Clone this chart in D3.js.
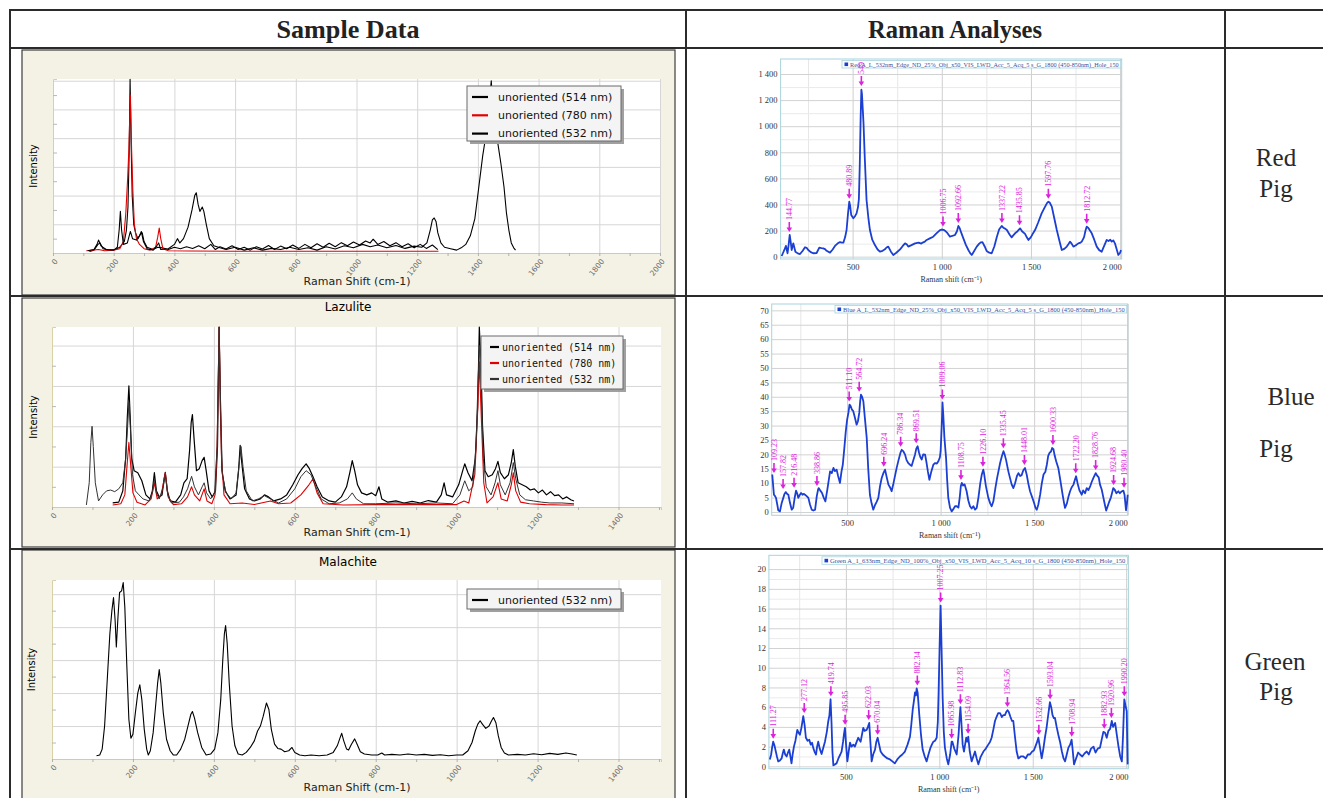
<!DOCTYPE html>
<html lang="en">
<head>
<meta charset="utf-8">
<title>Sample Data / Raman Analyses</title>
<script src="https://d3js.org/d3.v7.min.js"></script>
<style>
  body { margin: 0; background: #fff; }
  svg { display: block; }
</style>
</head>
<body>
<div id="chart"></div>
<script>

// ---------- sample data (reference spectra), [shift, intensity] ----------
var sampleTicks2000 = [0, 200, 400, 600, 800, 1000, 1200, 1400, 1600, 1800, 2000];
var sampleTicks1400 = [0, 200, 400, 600, 800, 1000, 1200, 1400];
var legendNames = ["unoriented (514 nm)", "unoriented (780 nm)", "unoriented (532 nm)"];

var first514 = [[120,0.05],[135,0.1],[148,0.3],[155,0.35],[165,0.15],[185,0.1],[205,0.12],[220,0.2],[235,0.4],[242,0.8],[247,1.6],[251,3.5],[254,6.05],[257,4.0],[261,2.0],[266,1.0],[272,0.7],[280,0.5],[288,0.65],[294,0.7],[300,0.4],[310,0.2],[330,0.12],[345,0.2],[360,0.18],[380,0.12],[400,0.2],[420,0.15],[440,0.22],[460,0.16],[480,0.25],[500,0.15],[520,0.3],[535,0.12],[550,0.22],[570,0.14],[590,0.25],[610,0.12],[630,0.2],[650,0.1],[670,0.22],[690,0.14],[710,0.26],[730,0.12],[750,0.24],[770,0.15],[790,0.28],[810,0.16],[830,0.3],[850,0.18],[870,0.32],[890,0.2],[910,0.34],[930,0.22],[950,0.36],[970,0.25],[990,0.38],[1010,0.28],[1030,0.42],[1045,0.35],[1055,0.48],[1070,0.3],[1090,0.4],[1110,0.25],[1130,0.36],[1150,0.22],[1170,0.32],[1190,0.18],[1210,0.3],[1230,0.16],[1250,0.28],[1268,0.12]];
var first780 = [[110,0.08],[130,0.1],[150,0.12],[170,0.08],[200,0.1],[220,0.15],[232,0.4],[240,1.4],[246,2.6],[250,3.6],[255,5.5],[259,3.6],[263,2.2],[268,1.0],[275,0.5],[285,0.3],[300,0.15],[320,0.1],[338,0.2],[345,0.55],[350,0.87],[355,0.5],[362,0.15],[380,0.08],[450,0.07],[600,0.06],[800,0.06],[1000,0.06],[1150,0.06],[1270,0.06]];
var first532 = [[115,0.08],[135,0.12],[145,0.3],[150,0.45],[158,0.25],[175,0.12],[200,0.1],[212,0.2],[218,0.8],[222,1.45],[226,0.8],[232,0.3],[245,0.35],[255,0.75],[262,0.5],[275,0.45],[285,0.6],[291,0.75],[298,0.4],[310,0.15],[330,0.1],[342,0.25],[348,0.35],[355,0.12],[380,0.15],[400,0.3],[410,0.5],[418,0.35],[430,0.5],[445,0.9],[458,1.5],[467,2.0],[472,2.1],[478,1.7],[484,1.45],[492,1.6],[497,1.45],[505,1.0],[515,0.5],[530,0.25],[550,0.18],[570,0.12],[600,0.2],[630,0.1],[660,0.18],[690,0.1],[720,0.16],[750,0.12],[780,0.2],[810,0.12],[840,0.18],[870,0.1],[900,0.22],[930,0.14],[960,0.25],[990,0.18],[1020,0.3],[1045,0.22],[1070,0.28],[1100,0.18],[1130,0.26],[1160,0.16],[1190,0.24],[1215,0.2],[1232,0.35],[1243,0.8],[1250,1.15],[1256,1.22],[1262,1.1],[1268,0.7],[1278,0.35],[1290,0.2],[1310,0.15],[1330,0.1],[1345,0.18],[1360,0.3],[1375,0.6],[1390,1.2],[1403,2.3],[1416,3.4],[1428,4.2],[1436,5.0],[1444,6.0],[1450,5.0],[1458,4.4],[1466,3.8],[1476,3.1],[1486,2.3],[1494,1.4],[1502,0.8],[1510,0.35],[1518,0.18],[1524,0.1]];

var lazulite514 = [[150,0.1],[165,0.12],[175,0.4],[182,1.2],[186,2.2],[190,3.0],[193,2.3],[197,1.2],[203,0.9],[212,0.85],[222,0.65],[232,0.3],[242,0.2],[248,0.4],[253,0.85],[258,0.4],[265,0.25],[272,0.3],[277,0.7],[280,0.86],[285,0.4],[292,0.15],[305,0.12],[318,0.3],[326,0.6],[334,0.7],[340,1.4],[344,2.1],[347,2.29],[351,1.7],[357,0.9],[364,0.95],[371,1.15],[376,1.23],[381,0.9],[388,0.4],[396,0.25],[404,0.4],[409,1.5],[413,4.46],[416,2.5],[420,0.9],[428,0.4],[440,0.2],[455,0.3],[461,0.9],[465,1.53],[469,1.1],[476,0.45],[488,0.2],[500,0.15],[515,0.2],[525,0.3],[535,0.25],[548,0.15],[565,0.2],[580,0.3],[595,0.55],[608,0.8],[618,0.95],[628,1.07],[636,0.95],[645,0.75],[655,0.5],[668,0.25],[685,0.15],[700,0.12],[715,0.25],[728,0.5],[736,0.85],[742,1.15],[748,0.9],[755,0.55],[765,0.35],[778,0.3],[790,0.35],[800,0.28],[808,0.5],[815,0.2],[830,0.12],[850,0.15],[870,0.1],[890,0.14],[910,0.1],[930,0.16],[950,0.12],[962,0.3],[969,0.6],[975,0.3],[990,0.25],[1005,0.55],[1015,0.9],[1020,1.07],[1028,0.85],[1038,0.65],[1046,1.2],[1052,2.5],[1056,4.46],[1060,3.6],[1064,2.0],[1070,0.9],[1078,0.75],[1088,0.8],[1096,0.95],[1102,1.13],[1108,0.85],[1118,0.7],[1128,0.8],[1135,1.1],[1140,1.42],[1145,1.0],[1152,0.6],[1162,0.55],[1172,0.5],[1182,0.42],[1192,0.45],[1202,0.35],[1212,0.42],[1222,0.3],[1232,0.38],[1242,0.28],[1252,0.3],[1262,0.2],[1272,0.25],[1282,0.18],[1290,0.15]];
var lazulite780 = [[150,0.05],[170,0.08],[180,0.3],[186,1.1],[190,1.6],[194,1.1],[200,0.35],[210,0.12],[230,0.05],[245,0.2],[253,0.6],[260,0.2],[270,0.3],[280,0.85],[287,0.25],[300,0.06],[320,0.08],[335,0.25],[345,0.5],[352,0.3],[365,0.15],[376,0.45],[383,0.15],[395,0.08],[403,0.3],[408,1.5],[413,4.46],[416,2.8],[419,1.2],[425,0.3],[440,0.08],[470,0.1],[500,0.06],[540,0.15],[560,0.08],[590,0.1],[615,0.3],[635,0.55],[645,0.7],[655,0.35],[670,0.08],[720,0.05],[800,0.06],[900,0.06],[1000,0.06],[1018,0.15],[1030,0.1],[1045,0.8],[1052,2.4],[1056,3.6],[1061,2.2],[1067,0.6],[1075,0.1],[1090,0.25],[1102,0.6],[1110,0.2],[1125,0.15],[1135,0.55],[1140,0.85],[1146,0.4],[1158,0.12],[1180,0.08],[1220,0.06],[1260,0.05],[1290,0.05]];
var lazulite532 = [[85,0.05],[92,0.6],[96,1.6],[99,2.0],[102,1.5],[107,0.6],[115,0.15],[125,0.3],[135,0.4],[145,0.42],[155,0.38],[165,0.45],[175,0.6],[182,1.2],[187,2.0],[190,2.6],[194,1.9],[199,0.8],[206,0.4],[215,0.3],[225,0.2],[240,0.15],[248,0.35],[253,0.7],[258,0.35],[265,0.2],[275,0.5],[280,0.8],[286,0.3],[295,0.1],[315,0.12],[325,0.25],[335,0.45],[345,0.76],[352,0.5],[362,0.3],[371,0.5],[376,0.6],[382,0.35],[392,0.2],[402,0.35],[408,1.5],[413,4.46],[417,2.4],[421,0.8],[430,0.35],[443,0.2],[455,0.35],[462,1.0],[467,1.5],[472,1.0],[480,0.4],[495,0.15],[510,0.2],[525,0.28],[540,0.2],[560,0.1],[580,0.2],[600,0.45],[615,0.75],[628,0.9],[640,0.8],[652,0.5],[665,0.2],[685,0.08],[710,0.1],[730,0.2],[742,0.35],[752,0.2],[770,0.08],[800,0.08],[850,0.1],[900,0.08],[950,0.1],[990,0.08],[1008,0.3],[1020,0.65],[1030,0.4],[1040,0.5],[1048,1.5],[1053,3.2],[1057,4.0],[1061,2.8],[1066,1.2],[1073,0.5],[1085,0.3],[1095,0.6],[1102,0.9],[1108,0.55],[1120,0.3],[1132,0.6],[1140,1.1],[1146,0.7],[1156,0.3],[1170,0.18],[1190,0.15],[1210,0.12],[1230,0.1],[1260,0.1],[1290,0.08]];

var malachite532 = [[110,0.1],[118,0.12],[124,0.3],[130,1.0],[137,2.5],[143,3.8],[148,4.5],[152,4.9],[156,4.2],[159,3.4],[163,4.3],[167,5.05],[172,5.1],[176,5.35],[180,4.6],[185,2.8],[190,1.2],[195,0.63],[200,0.75],[206,1.4],[212,2.0],[217,2.25],[222,1.8],[228,0.9],[234,0.3],[238,0.12],[243,0.25],[250,0.8],[256,1.6],[261,2.3],[265,2.71],[269,2.3],[275,1.4],[283,0.6],[292,0.25],[300,0.12],[308,0.12],[318,0.3],[328,0.6],[337,1.05],[343,1.35],[347,1.44],[352,1.25],[360,0.8],[370,0.35],[381,0.12],[392,0.15],[402,0.3],[410,0.8],[417,1.8],[422,3.0],[426,3.8],[429,4.05],[433,3.5],[438,2.3],[445,1.0],[452,0.4],[460,0.15],[470,0.12],[480,0.2],[490,0.35],[500,0.55],[508,0.85],[515,1.0],[522,1.3],[530,1.7],[536,1.5],[542,0.9],[550,0.45],[558,0.32],[566,0.3],[575,0.22],[585,0.25],[593,0.35],[600,0.2],[612,0.12],[625,0.1],[640,0.12],[660,0.1],[680,0.12],[695,0.2],[705,0.4],[712,0.65],[716,0.78],[721,0.55],[728,0.3],[733,0.27],[740,0.45],[748,0.61],[754,0.45],[762,0.22],[772,0.15],[790,0.12],[805,0.12],[815,0.18],[822,0.12],[840,0.14],[860,0.12],[880,0.15],[900,0.12],[920,0.14],[940,0.11],[960,0.13],[980,0.1],[1000,0.12],[1015,0.12],[1028,0.25],[1038,0.5],[1046,0.85],[1052,1.05],[1058,1.16],[1064,1.05],[1072,0.93],[1080,1.0],[1086,1.15],[1091,1.26],[1097,1.1],[1103,0.7],[1110,0.35],[1118,0.18],[1128,0.12],[1150,0.14],[1170,0.12],[1190,0.16],[1210,0.13],[1230,0.17],[1250,0.14],[1270,0.18],[1285,0.15],[1297,0.12]];

// ---------- raman analyses of the pigments ----------
var ramanXTicks = [500, 1000, 1500, 2000];
var ramanXMinor = [250, 750, 1250, 1750];

var redPigTicks = [0, 200, 400, 600, 800, 1000, 1200, 1400];
var redPig = [[102,5],[110,30],[117,51],[126,82],[135,26],[141,90],[147,166],[153,110],[158,51],[167,102],[173,70],[179,38],[192,25],[205,20],[220,45],[233,72],[242,68],[251,51],[265,35],[279,26],[298,28],[313,69],[325,66],[335,64],[345,58],[354,45],[373,31],[388,55],[401,82],[415,100],[429,112],[440,108],[448,107],[458,150],[466,204],[474,330],[481,421],[486,390],[492,320],[504,294],[513,310],[522,332],[530,380],[535,440],[540,700],[545,1073],[549,1280],[552,1250],[556,1150],[561,1022],[568,760],[578,434],[588,300],[597,204],[610,130],[625,89],[640,55],[653,38],[668,45],[681,56],[690,70],[700,77],[714,40],[728,13],[745,30],[766,56],[780,80],[794,102],[803,95],[812,77],[830,88],[850,102],[870,108],[885,100],[896,110],[905,115],[915,128],[933,140],[952,153],[970,178],[990,204],[1000,208],[1010,206],[1018,199],[1032,180],[1046,153],[1060,160],[1074,166],[1085,195],[1093,235],[1100,220],[1110,180],[1121,140],[1135,90],[1149,51],[1160,25],[1168,13],[1180,40],[1196,77],[1210,100],[1220,110],[1228,112],[1240,80],[1252,43],[1266,30],[1280,26],[1295,80],[1309,153],[1322,210],[1336,235],[1345,222],[1355,215],[1365,204],[1380,170],[1392,148],[1402,165],[1411,179],[1425,195],[1439,217],[1450,195],[1467,174],[1476,150],[1486,128],[1500,150],[1512,180],[1523,204],[1540,260],[1560,332],[1578,380],[1590,410],[1598,421],[1605,415],[1617,383],[1630,300],[1645,204],[1660,120],[1673,51],[1687,60],[1701,77],[1710,95],[1719,115],[1728,100],[1738,77],[1750,85],[1766,102],[1775,105],[1785,115],[1798,150],[1806,200],[1813,230],[1822,220],[1831,200],[1841,179],[1855,130],[1869,77],[1883,50],[1897,38],[1910,80],[1925,128],[1935,120],[1945,130],[1953,115],[1962,125],[1971,102],[1980,60],[1990,13],[2000,30],[2005,51]];
var redPigPeaks = [["144.77",166],["480.89",421],["549",1285],["1006.75",208],["1092.66",235],["1337.22",235],["1435.85",217],["1597.76",421],["1812.72",230]];

var bluePigTicks = [0, 5, 10, 15, 20, 25, 30, 35, 40, 45, 50, 55, 60, 65, 70];
var bluePig = [[100,13.0],[105,9],[109,6.0],[115,5.5],[120,4.9],[127,2.5],[132,0.6],[141,0.2],[150,3],[159,4.9],[165,6.2],[172,6.9],[179,6.3],[186,6.0],[195,3.1],[204,0.8],[212,1.5],[220,5],[227,7.4],[233,6.5],[239,4.9],[246,5.8],[254,6.6],[262,6.0],[268,6.3],[275,6.0],[284,5.5],[293,4.9],[302,2.5],[311,0.8],[320,0.5],[329,0.8],[338,5.5],[345,7.8],[348,8.3],[356,7.5],[366,6.6],[375,5],[384,3.7],[395,8],[403,11.5],[409,14.1],[418,13.5],[427,15.3],[435,14.2],[444,14.7],[452,12.5],[462,10.1],[470,14],[477,16.4],[485,22],[493,28.0],[500,32],[507,34.4],[513,37.3],[519,36.8],[526,35.5],[533,35.0],[541,33],[551,30.3],[558,31.5],[565,34.4],[570,38.5],[574,40.7],[580,40],[587,38.4],[596,32],[605,25.7],[613,15],[622,6.0],[631,3],[640,0.8],[650,2.5],[658,3.5],[667,4.9],[676,9],[685,11.8],[694,13.5],[703,14.7],[712,12],[721,9.5],[730,8.5],[738,7.2],[748,10],[757,12.8],[765,15.3],[775,18],[785,20.5],[792,21.6],[801,21],[810,19.9],[818,18],[827,17],[836,16.4],[845,16],[852,17.5],[863,19.9],[870,22],[877,22.8],[885,20.5],[892,19],[899,18.2],[907,20],[917,19.9],[925,17],[932,14],[940,11.2],[950,14],[961,16.4],[970,17],[980,16.8],[988,17.6],[996,19],[1000,21.1],[1006,30],[1010,38],[1014,34],[1020,26],[1029,18.8],[1035,11],[1041,4.9],[1050,1.5],[1059,0.2],[1068,1],[1077,2],[1086,2.0],[1095,1.5],[1102,5],[1108,9],[1113,10.1],[1120,9.2],[1128,9.6],[1139,7.2],[1148,4],[1157,2],[1166,1.2],[1175,2],[1184,0.8],[1193,1.4],[1202,5],[1212,10],[1220,13.0],[1228,14.7],[1232,13.5],[1242,9],[1255,4.9],[1265,3],[1273,2],[1282,3.7],[1292,8],[1301,11.5],[1309,14.1],[1318,17],[1328,19.5],[1336,21.1],[1342,20],[1350,18],[1362,14.1],[1372,11.5],[1380,9.5],[1389,8.3],[1398,10],[1408,12.5],[1416,13.5],[1425,12.5],[1433,12.8],[1442,14.5],[1451,15.3],[1460,13],[1470,9.5],[1478,7.2],[1490,5],[1500,3],[1507,1.5],[1514,0.8],[1522,2.5],[1532,6],[1541,10],[1550,13.0],[1560,14],[1568,16.5],[1575,19.5],[1582,20.5],[1590,21],[1596,22.2],[1603,21.8],[1610,19.5],[1618,17.5],[1629,15.3],[1640,11],[1652,6],[1660,3],[1665,1.4],[1675,3],[1684,5.5],[1692,7.2],[1700,8.5],[1710,9.5],[1717,11],[1724,12.4],[1732,10],[1742,7.5],[1754,6.0],[1762,7.5],[1772,6.5],[1781,8.3],[1790,7.6],[1800,9],[1808,10.5],[1818,12],[1829,13.5],[1838,12.5],[1845,12],[1852,9.5],[1861,7.8],[1870,5],[1878,2.5],[1885,0.5],[1893,2],[1902,3.7],[1910,5],[1918,7],[1923,8.3],[1930,7.8],[1940,6.5],[1950,7.2],[1958,6.5],[1965,7],[1977,7.4],[1983,6],[1991,0.6],[1996,3],[2000,6.0]];
var bluePigPeaks = [["109.23",12.5],["157.82",6.9],["216.48",7.4],["338.86",8.0],["511.10",37.3],["564.72",40.7],["696.24",14.7],["786.34",21.6],["869.51",22.8],["1009.06",38],["1108.75",10.1],["1226.10",14.7],["1335.45",21.1],["1448.01",15.3],["1600.33",22.2],["1722.20",12.4],["1828.76",13.5],["1924.68",8.3],["1980.40",7.4]];

var greenPigTicks = [0, 2, 4, 6, 8, 10, 12, 14, 16, 18, 20];
var greenPig = [[93,0.7],[100,1.2],[106,2.0],[111,2.5],[118,2.1],[125,1.5],[131,1.0],[138,0.5],[147,0.6],[156,0.8],[162,1.3],[168,1.7],[175,1.2],[183,1.0],[190,1.4],[197,1.7],[203,1.0],[209,0.3],[215,1.2],[222,2.0],[230,2.6],[240,3.7],[247,3.4],[254,3.2],[262,3.9],[272,5.1],[279,4.2],[286,2.9],[295,2.6],[304,2.7],[312,2.2],[319,2.4],[325,1.9],[332,1.5],[340,1.2],[346,2.0],[352,2.5],[360,1.8],[370,1.25],[378,1.8],[388,2.5],[398,3.5],[406,4.6],[412,5.2],[418,6.8],[423,4.5],[428,1.5],[433,0.1],[442,0.2],[450,0.3],[460,0.8],[470,1.2],[477,1.5],[485,2.5],[490,3.3],[495,3.9],[501,2.2],[508,0.5],[515,1.5],[522,2.4],[530,2.0],[540,2.2],[548,2.0],[556,2.4],[566,2.9],[572,2.7],[579,2.5],[586,3.2],[593,3.9],[600,3.6],[611,3.7],[618,4.0],[625,4.4],[631,2.5],[638,0.5],[646,1.2],[656,1.7],[663,2.5],[670,2.9],[678,2.2],[686,1.5],[697,1.2],[709,1.0],[722,0.8],[736,0.7],[749,0.5],[762,0.3],[775,0.7],[789,1.0],[802,1.2],[816,1.5],[830,2.2],[843,3.0],[850,4.2],[858,5.8],[864,6.6],[870,7.5],[875,7.2],[879,7.9],[884,7.5],[888,6.5],[893,5.2],[902,3.2],[911,1.7],[922,1.0],[932,0.5],[942,1.2],[953,1.9],[960,2.2],[968,2.5],[977,2.6],[986,2.9],[992,4.5],[996,7.3],[1002,12.5],[1007,16.3],[1012,12],[1018,6.9],[1024,3.5],[1030,1.9],[1040,0.8],[1048,0.2],[1058,1.2],[1066,2.5],[1070,2.5],[1080,1.8],[1093,1.2],[1103,3.2],[1109,5],[1113,6.0],[1118,4.5],[1125,2.2],[1132,1.5],[1138,2.2],[1144,2.9],[1150,2.5],[1155,3.0],[1163,1.5],[1173,0.5],[1182,1.0],[1191,1.5],[1200,0.8],[1209,0.2],[1220,0.9],[1236,1.5],[1249,1.8],[1262,2.2],[1272,2.5],[1280,2.9],[1290,3.8],[1298,4.6],[1306,5.0],[1315,5.4],[1325,5.4],[1335,5.0],[1343,5.2],[1351,5.2],[1358,5.5],[1365,5.7],[1372,5.5],[1381,5.0],[1389,4.6],[1396,4.6],[1405,3.0],[1414,1.5],[1423,0.8],[1436,1.0],[1450,1.0],[1462,0.8],[1474,1.2],[1485,1.2],[1497,1.5],[1506,1.6],[1512,1.9],[1522,2.4],[1530,2.9],[1538,2.0],[1548,0.8],[1557,1.8],[1566,3.0],[1574,3.9],[1580,4.8],[1587,5.8],[1592,6.5],[1599,6.0],[1606,5.2],[1613,4.9],[1619,4.9],[1628,4.0],[1637,3.2],[1646,2.5],[1656,1.5],[1665,0.8],[1673,0.5],[1682,1.2],[1691,1.9],[1700,2.2],[1708,2.7],[1712,2.0],[1721,0.2],[1732,0.8],[1743,1.4],[1753,1.2],[1765,1.0],[1777,1.3],[1789,1.5],[1800,1.2],[1812,1.8],[1825,2.0],[1836,1.4],[1848,1.8],[1860,1.9],[1870,2.8],[1878,3.5],[1887,3.4],[1896,2.9],[1905,3.6],[1914,3.8],[1923,4.6],[1930,4.0],[1941,4.4],[1950,3.2],[1959,2.0],[1968,1.0],[1977,0.5],[1983,3.0],[1990,6.8],[1996,6.2],[2003,5.6],[2008,0.2]];
var greenPigPeaks = [["111.27",2.5],["277.12",5.1],["419.74",6.8],["495.85",3.9],["622.03",4.4],["670.04",2.9],["882.34",7.9],["1007.25",16.3],["1065.98",2.5],["1112.83",6.0],["1154.09",3.0],["1364.56",5.7],["1532.66",2.9],["1593.04",6.5],["1708.94",2.7],["1882.93",3.5],["1920.96",4.6],["1990.20",6.8]];

var rowLabels = [["Red", "Pig"], ["Blue", "Pig"], ["Green", "Pig"]];

// ---------- page ----------
var serif = "'Liberation Serif', 'Times New Roman', serif";
var sans = "'DejaVu Sans', sans-serif";
var mono = "'DejaVu Sans Mono', monospace";
var magenta = "#dc22dc";

var svg = d3.select("#chart").append("svg")
    .attr("width", 1323)
    .attr("height", 798);

var spaceFormat = d3.formatLocale({decimal: ".", thousands: " ", grouping: [3], currency: ["", ""]}).format(",");

// one reference spectrum panel (left column)
function drawSample(c) {
  var p = c.plot; // left, top, right, bottom
  var g = svg.append("g");

  g.append("rect")
      .attr("x", c.panel[0]).attr("y", c.panel[1])
      .attr("width", c.panel[2] - c.panel[0]).attr("height", c.panel[3] - c.panel[1])
      .attr("fill", "#f4f2e5").attr("stroke", "#3c3c3c").attr("stroke-width", 1.2);
  g.append("rect")
      .attr("x", p[0]).attr("y", p[1])
      .attr("width", p[2] - p[0]).attr("height", p[3] - p[1])
      .attr("fill", "#fff");

  var x = d3.scaleLinear().domain(c.xDomain).range([p[0], p[2]]);
  var y = d3.scaleLinear().domain(c.yDomain).range([p[3], p[1]]);

  // grid lines
  g.append("g")
      .attr("transform", "translate(0," + p[3] + ")")
      .call(d3.axisBottom(x).tickValues(c.xTicks.slice(1)).tickSize(-(p[3] - p[1])).tickFormat(""))
      .call(a => a.select(".domain").remove())
      .selectAll("line").attr("stroke", "#d6d6d6");
  g.append("g")
      .attr("transform", "translate(" + p[0] + ",0)")
      .call(d3.axisLeft(y).tickValues(d3.range(1, Math.floor(c.yDomain[1]) + 1)).tickSize(-(p[2] - p[0])).tickFormat(""))
      .call(a => a.select(".domain").remove())
      .selectAll("line").attr("stroke", "#d6d6d6");

  // left axis: tan line with small half-step ticks
  g.append("g")
      .attr("transform", "translate(" + p[0] + ",0)")
      .call(d3.axisLeft(y).tickValues(d3.range(0.5, c.yDomain[1], 1)).tickSize(-4).tickFormat(""))
      .call(a => a.select(".domain").attr("stroke", "#d8d0a6"))
      .selectAll("line").attr("stroke", "#b8b8b8");

  // bottom axis with rotated labels
  var minor = d3.range(100, c.xDomain[1], 200);
  g.append("g")
      .attr("transform", "translate(0," + p[3] + ")")
      .call(d3.axisBottom(x).tickValues(minor).tickSize(3).tickFormat(""))
      .call(a => a.select(".domain").attr("stroke", "#d2cba6"))
      .selectAll("line").attr("stroke", "#b0b0b0");
  var xa = g.append("g")
      .attr("transform", "translate(0," + p[3] + ")")
      .call(d3.axisBottom(x).tickValues(c.xTicks).tickSize(3).tickFormat(d3.format("d")));
  xa.select(".domain").remove();
  xa.selectAll("line").attr("stroke", "#b0b0b0");
  xa.selectAll("text")
      .attr("x", 0).attr("y", 0).attr("dy", "0.3em")
      .attr("transform", "translate(3,7) rotate(-52)")
      .attr("text-anchor", "end")
      .attr("fill", "#6e6e6e")
      .attr("font-family", sans)
      .attr("font-size", 7.5);

  // spectra
  var clipId = "clip" + c.id;
  g.append("clipPath").attr("id", clipId).append("rect")
      .attr("x", p[0]).attr("y", p[1] - 1).attr("width", p[2] - p[0]).attr("height", p[3] - p[1] + 1);
  var line = d3.line().x(d => x(d[0])).y(d => y(d[1]));
  c.series.forEach(function(s) {
    g.append("path")
        .datum(s.values)
        .attr("clip-path", "url(#" + clipId + ")")
        .attr("d", line)
        .attr("fill", "none")
        .attr("stroke", s.color)
        .attr("stroke-width", s.width)
        .attr("stroke-linejoin", "round");
  });

  // titles
  if (c.title) {
    g.append("text").attr("x", 348).attr("y", c.titleY)
        .attr("text-anchor", "middle").attr("font-family", sans).attr("font-size", 12)
        .text(c.title);
  }
  g.append("text").attr("x", 357).attr("y", c.xLabelY)
      .attr("text-anchor", "middle").attr("font-family", sans).attr("font-size", 11)
      .attr("fill", "#222")
      .text("Raman Shift (cm-1)");
  g.append("text")
      .attr("transform", "translate(" + c.yLabelX + "," + ((p[1] + p[3]) / 2) + ") rotate(-90)")
      .attr("text-anchor", "middle").attr("font-family", sans).attr("font-size", 10)
      .text("Intensity");

  // legend
  var L = c.legend; // x, y, w, h
  g.append("rect").attr("x", L[0] + 3).attr("y", L[1] + 3).attr("width", L[2]).attr("height", L[3])
      .attr("fill", "#a0a0a0");
  g.append("rect").attr("x", L[0]).attr("y", L[1]).attr("width", L[2]).attr("height", L[3])
      .attr("fill", "#f4f4f4").attr("stroke", "#6a6a6a");
  c.series.forEach(function(s, i) {
    var ly = L[1] + 11 + i * c.legendStep;
    g.append("line")
        .attr("x1", L[0] + c.legendLine[0]).attr("x2", L[0] + c.legendLine[1])
        .attr("y1", ly).attr("y2", ly)
        .attr("stroke", s.color).attr("stroke-width", 2.2);
    g.append("text")
        .attr("x", L[0] + c.legendText).attr("y", ly).attr("dy", "0.35em")
        .attr("font-family", c.legendFont).attr("font-size", c.legendSize)
        .attr("fill", "#111")
        .text(s.name);
  });
}

// one raman analysis panel (middle column)
function drawRaman(c) {
  var p = c.plot;
  var g = svg.append("g");
  var x = d3.scaleLinear().domain(c.xDomain).range([p[0], p[2]]);
  var y = d3.scaleLinear().domain(c.yDomain).range([p[3], p[1]]);
  var w = p[2] - p[0], h = p[3] - p[1];

  // minor then major grid
  g.append("g").attr("transform", "translate(0," + p[3] + ")")
      .call(d3.axisBottom(x).tickValues(ramanXMinor).tickSize(-h).tickFormat(""))
      .call(a => a.select(".domain").remove())
      .selectAll("line").attr("stroke", "#e6e6e6");
  if (c.yMinor.length) {
    g.append("g").attr("transform", "translate(" + p[0] + ",0)")
        .call(d3.axisLeft(y).tickValues(c.yMinor).tickSize(-w).tickFormat(""))
        .call(a => a.select(".domain").remove())
        .selectAll("line").attr("stroke", "#ebebeb");
  }
  g.append("g").attr("transform", "translate(0," + p[3] + ")")
      .call(d3.axisBottom(x).tickValues(ramanXTicks).tickSize(-h).tickFormat(""))
      .call(a => a.select(".domain").remove())
      .selectAll("line").attr("stroke", "#cfcfcf");
  g.append("g").attr("transform", "translate(" + p[0] + ",0)")
      .call(d3.axisLeft(y).tickValues(c.yTicks).tickSize(-w).tickFormat(""))
      .call(a => a.select(".domain").remove())
      .selectAll("line").attr("stroke", "#d2d2d2");

  g.append("rect").attr("x", p[0]).attr("y", p[1]).attr("width", w).attr("height", h)
      .attr("fill", "none").attr("stroke", "#a9d3dc").attr("stroke-width", 1);

  // tick labels
  var ya = g.append("g").attr("transform", "translate(" + (p[0] - 3) + ",0)")
      .call(d3.axisLeft(y).tickValues(c.yTicks).tickSize(0).tickPadding(0).tickFormat(spaceFormat));
  ya.select(".domain").remove();
  ya.selectAll("text").attr("font-family", serif).attr("font-size", 8.5).attr("fill", "#333");

  var xa = g.append("g").attr("transform", "translate(0," + p[3] + ")")
      .call(d3.axisBottom(x).tickValues(ramanXTicks).tickSize(0).tickPadding(5).tickFormat(spaceFormat));
  xa.select(".domain").remove();
  xa.selectAll("text").attr("font-family", serif).attr("font-size", 8.5).attr("fill", "#333")
      .attr("x", d => Math.min(0, p[2] - 10 - x(d)));

  g.append("text").attr("x", (p[0] + p[2]) / 2).attr("y", p[3] + 23)
      .attr("text-anchor", "middle").attr("font-family", serif).attr("font-size", 8)
      .attr("fill", "#333")
      .text("Raman shift (cm\u207B\u00B9)");

  // spectrum
  var line = d3.line().x(d => x(d[0])).y(d => y(d[1]));
  g.append("path").datum(c.values)
      .attr("d", line)
      .attr("fill", "none")
      .attr("stroke", "#1b3fd3")
      .attr("stroke-width", 1.8)
      .attr("stroke-linejoin", "round");

  // legend strip
  var lx = c.legendX, lw = p[2] - 1 - c.legendX;
  g.append("rect").attr("x", lx).attr("y", p[1] + 1.5).attr("width", lw).attr("height", 7.5)
      .attr("fill", "#fff").attr("stroke", "#a9d3dc").attr("stroke-width", 0.8);
  g.append("rect").attr("x", lx + 2.5).attr("y", p[1] + 3.5).attr("width", 3.6).attr("height", 3.6)
      .attr("fill", "#1b3fd3");
  g.append("text").attr("x", lx + 8).attr("y", p[1] + 7.6)
      .attr("font-family", serif).attr("font-size", 5.8).attr("fill", "#3a4f9c")
      .attr("textLength", lw - 10).attr("lengthAdjust", "spacingAndGlyphs")
      .text(c.legendText);

  // peak markers
  var pk = g.selectAll(".peak").data(c.peaks).join("g")
      .attr("transform", d => "translate(" + x(+d[0]) + "," + (y(d[1]) - 3) + ")");
  pk.append("path")
      .attr("d", "M0,0L-2.8,-4.6L-0.8,-4.6L-0.8,-10L0.8,-10L0.8,-4.6L2.8,-4.6Z")
      .attr("fill", magenta);
  pk.append("text")
      .attr("transform", "rotate(-90)")
      .attr("x", 12).attr("y", 2.8)
      .attr("font-family", serif).attr("font-size", 8)
      .attr("fill", magenta)
      .text(d => d[0]);
}

// ---------- left column ----------
drawSample({
  id: 1, panel: [22, 50, 675, 295], plot: [53, 79, 660, 253],
  xDomain: [0, 2000], yDomain: [0, 6.06], xTicks: sampleTicks2000,
  xLabelY: 285, yLabelX: 37,
  series: [
    {name: legendNames[0], values: first514, color: "#000", width: 1.1},
    {name: legendNames[1], values: first780, color: "#e00000", width: 1.1},
    {name: legendNames[2], values: first532, color: "#000", width: 1.1}
  ],
  legend: [467, 86, 154, 55], legendStep: 18.3, legendLine: [5, 21], legendText: 31,
  legendFont: sans, legendSize: 11
});

drawSample({
  id: 2, panel: [22, 298, 675, 547], plot: [52, 327, 661, 507],
  xDomain: [0, 1505], yDomain: [0, 4.46], xTicks: sampleTicks1400,
  title: "Lazulite", titleY: 311,
  xLabelY: 536, yLabelX: 37,
  series: [
    {name: legendNames[0], values: lazulite514, color: "#000", width: 1.2},
    {name: legendNames[1], values: lazulite780, color: "#e00000", width: 1.1},
    {name: legendNames[2], values: lazulite532, color: "#333", width: 1.0}
  ],
  legend: [481, 336, 142, 53], legendStep: 16, legendLine: [9, 18], legendText: 21,
  legendFont: mono, legendSize: 10
});

drawSample({
  id: 3, panel: [22, 550, 675, 810], plot: [52, 580, 661, 759],
  xDomain: [0, 1505], yDomain: [0, 5.43], xTicks: sampleTicks1400,
  title: "Malachite", titleY: 566,
  xLabelY: 791, yLabelX: 35,
  series: [
    {name: legendNames[2], values: malachite532, color: "#000", width: 1.1}
  ],
  legend: [467, 589, 154, 20], legendStep: 18, legendLine: [5, 21], legendText: 31,
  legendFont: sans, legendSize: 11
});

// ---------- middle column ----------
drawRaman({
  plot: [780.6, 59, 1121.7, 259], xDomain: [96, 2009], yDomain: [-18, 1515],
  yTicks: redPigTicks, yMinor: d3.range(100, 1500, 200),
  values: redPig, peaks: redPigPeaks, legendX: 842,
  legendText: "Red A_L_532nm_Edge_ND_25%_Obj_x50_VIS_LWD_Acc_5_Acq_5 s_G_1800 (450-850nm)_Hole_150"
});

drawRaman({
  plot: [771.7, 304, 1127.7, 515.3], xDomain: [97, 2000], yDomain: [-1.15, 72.2],
  yTicks: bluePigTicks, yMinor: [],
  values: bluePig, peaks: bluePigPeaks, legendX: 835,
  legendText: "Blue A_L_532nm_Edge_ND_25%_Obj_x50_VIS_LWD_Acc_5_Acq_5 s_G_1800 (450-850nm)_Hole_150"
});

drawRaman({
  plot: [768.9, 555.3, 1128.4, 768.7], xDomain: [88, 2012], yDomain: [-0.24, 21.4],
  yTicks: greenPigTicks, yMinor: d3.range(1, 21, 2),
  values: greenPig, peaks: greenPigPeaks, legendX: 822,
  legendText: "Green A_1_633nm_Edge_ND_100%_Obj_x50_VIS_LWD_Acc_5_Acq_10 s_G_1800 (450-850nm)_Hole_150"
});

// ---------- right column labels ----------
var labelPos = [[[1276, 166], [1276, 197]], [[1291, 405], [1276, 457]], [[1275, 670], [1276, 700]]];
rowLabels.forEach(function(words, i) {
  words.forEach(function(wd, j) {
    svg.append("text")
        .attr("x", labelPos[i][j][0]).attr("y", labelPos[i][j][1])
        .attr("text-anchor", "middle")
        .attr("font-family", serif).attr("font-size", 25)
        .attr("fill", "#2a2a2a")
        .text(wd);
  });
});

// ---------- header and table rules ----------
svg.append("text").attr("x", 348).attr("y", 38)
    .attr("text-anchor", "middle").attr("font-family", serif).attr("font-weight", "bold")
    .attr("font-size", 25).attr("fill", "#222")
    .attr("textLength", 143).attr("lengthAdjust", "spacingAndGlyphs")
    .text("Sample Data");
svg.append("text").attr("x", 955).attr("y", 38)
    .attr("text-anchor", "middle").attr("font-family", serif).attr("font-weight", "bold")
    .attr("font-size", 25).attr("fill", "#222")
    .attr("textLength", 174).attr("lengthAdjust", "spacingAndGlyphs")
    .text("Raman Analyses");

var hRules = [10, 48, 296, 549];
var vRules = [10, 686, 1225];
svg.selectAll(".hrule").data(hRules).join("line")
    .attr("x1", 9).attr("x2", 1323).attr("y1", d => d).attr("y2", d => d)
    .attr("stroke", "#2b2b2b").attr("stroke-width", 2);
svg.selectAll(".vrule").data(vRules).join("line")
    .attr("x1", d => d).attr("x2", d => d).attr("y1", 9).attr("y2", 798)
    .attr("stroke", "#2b2b2b").attr("stroke-width", 2);

</script>
</body>
</html>
